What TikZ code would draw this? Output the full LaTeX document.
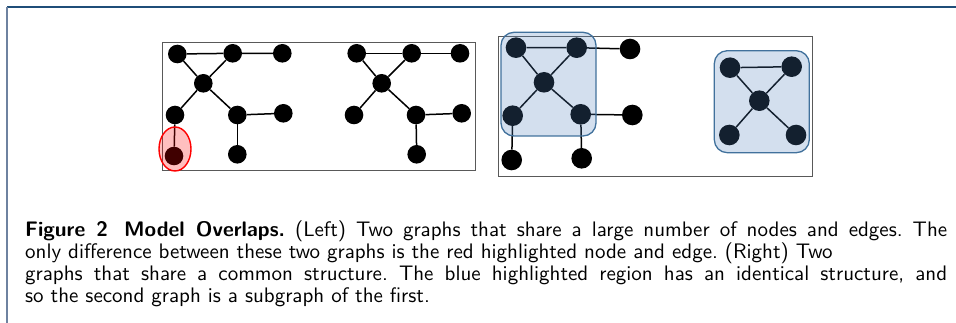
\documentclass[tikz,border=0pt]{standalone}
\usepackage{fontspec}
% 10pt design size at every size, bold extended for the caption lead-in
\setsansfont{lmsans10-regular.otf}[BoldFont=lmsans10-bold.otf]
\usetikzlibrary{shapes.geometric}
\definecolor{framebar}{RGB}{31,78,121}
\definecolor{frameside}{RGB}{110,130,160}
\definecolor{markblue}{RGB}{65,113,156}
\definecolor{tintblue}{RGB}{79,129,189}
\tikzset{
  x=1pt, y=-1pt,
  vtx/.style={circle, fill=black, inner sep=0pt, minimum size=18.6pt},
  bigvtx/.style={circle, fill=black, inner sep=0pt, minimum size=20.6pt},
  link/.style={line width=1.5pt, black},
  panel/.style={draw=black!65, line width=0.8pt},
  redmark/.style={draw=red, line width=1.4pt, fill=red, fill opacity=0.25},
  bluemark/.style={draw=markblue, line width=1.3pt, fill=tintblue, fill opacity=0.25, rounded corners=13pt},
}
% a caption line spread to the full column width
\newcommand\fullline[1]{\makebox[922pt][s]{#1}}
\begin{document}
\begin{tikzpicture}
\useasboundingbox (0,0) rectangle (956,323);

% outer frame
\draw[framebar, line width=1.6pt] (7,7) -- (956,7);
\draw[frameside, line width=1.2pt] (7,7) -- (7,323);

% panels
\draw[panel] (162.7,42.7) rectangle (475.7,170);
\draw[panel] (498.3,36) rectangle (812.7,176.7);

% --- left panel, first graph
\node[vtx] (a1) at (177.3,54) {};
\node[vtx] (b1) at (232.7,53.3) {};
\node[vtx] (c1) at (282.3,53.3) {};
\node[vtx] (x1) at (203.3,83.3) {};
\node[vtx] (d1) at (175,115) {};
\node[vtx] (e1) at (237.3,115) {};
\node[vtx] (f1) at (283.3,113.3) {};
\node[vtx] (g1) at (174,156) {};
\node[vtx] (h1) at (237.3,154.3) {};
\draw[link] (a1) -- (b1) -- (c1);
\draw[link] (a1) -- (x1) -- (b1);
\draw[link] (x1) -- (d1) -- (g1);
\draw[link] (x1) -- (e1) -- (f1);
\draw[link] (e1) -- (h1);

% --- left panel, second graph
\node[vtx] (a2) at (356.7,53.3) {};
\node[vtx] (b2) at (411.7,53.3) {};
\node[vtx] (c2) at (460,53.3) {};
\node[vtx] (x2) at (381.7,83.3) {};
\node[vtx] (d2) at (354,115) {};
\node[vtx] (e2) at (416,115) {};
\node[vtx] (f2) at (461.7,113.3) {};
\node[vtx] (h2) at (416.7,154.3) {};
\draw[link] (a2) -- (b2) -- (c2);
\draw[link] (a2) -- (x2) -- (b2);
\draw[link] (x2) -- (d2);
\draw[link] (x2) -- (e2) -- (f2);
\draw[link] (e2) -- (h2);

% highlighted extra node and edge
\node[redmark, ellipse, minimum width=32pt, minimum height=44pt, inner sep=0pt] (diff) at (175,149) {};

% --- right panel, first graph
\node[bigvtx] (a3) at (516,47.7) {};
\node[bigvtx] (b3) at (576.7,47.7) {};
\node[bigvtx] (c3) at (630,49) {};
\node[bigvtx] (x3) at (544,82.3) {};
\node[bigvtx] (d3) at (512.7,115.7) {};
\node[bigvtx] (e3) at (580.7,114.3) {};
\node[bigvtx] (f3) at (632.3,115) {};
\node[bigvtx] (g3) at (511.7,160) {};
\node[bigvtx] (h3) at (581.7,158.3) {};
\draw[link] (a3) -- (b3) -- (c3);
\draw[link] (a3) -- (x3) -- (b3);
\draw[link] (x3) -- (d3) -- (g3);
\draw[link] (x3) -- (e3) -- (f3);
\draw[link] (e3) -- (h3);

% --- right panel, second graph
\node[bigvtx] (a4) at (730,67.7) {};
\node[bigvtx] (b4) at (791.7,66.7) {};
\node[bigvtx] (x4) at (759.3,100.7) {};
\node[bigvtx] (d4) at (729.3,135) {};
\node[bigvtx] (e4) at (796,135) {};
\draw[link] (a4) -- (b4);
\draw[link] (a4) -- (x4) -- (b4);
\draw[link] (x4) -- (d4);
\draw[link] (x4) -- (e4);

% shared structure highlights
\draw[bluemark] (501,32.3) rectangle (596,136);
\draw[bluemark] (714.3,50.7) rectangle (809.3,152.7);

% caption (base anchor sits on the last line)
\node[anchor=base west, inner sep=0pt, align=left, font=\sffamily\fontsize{21pt}{22pt}\selectfont\frenchspacing] (cap) at (25,302.5)
{\fullline{\textbf{Figure 2\hspace*{0.25em} Model Overlaps.} (Left) Two graphs that share a large number of nodes and edges. The}\\
only difference between these two graphs is the red highlighted node and edge. (Right) Two\\
\fullline{graphs that share a common structure. The blue highlighted region has an identical structure, and}\\
so the second graph is a subgraph of the first.};
\end{tikzpicture}
\end{document}
